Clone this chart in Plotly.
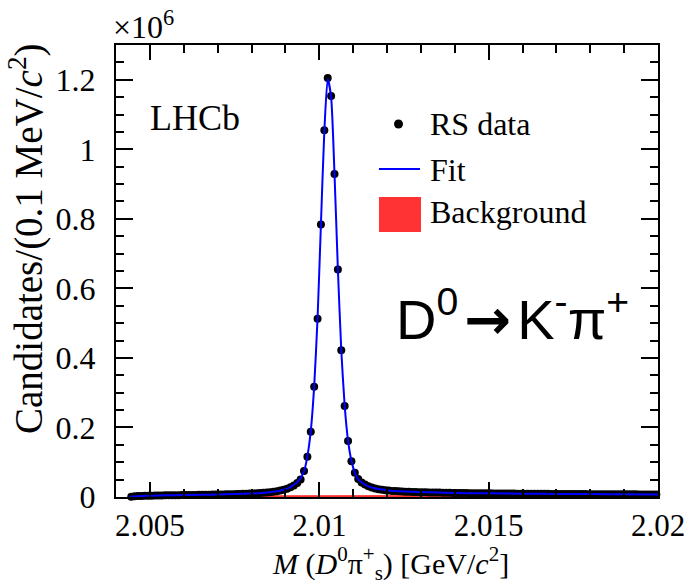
import numpy as np
import plotly.graph_objects as go

# ---------------- data (values in units of 10^6 candidates) ----------------
bin_first_center = 2.00445   # GeV/c^2
bin_width = 0.0001           # 0.1 MeV/c^2

rs_data = [
    # left tail (2.00445 ... 2.00945)
    0.0010, 0.0020, 0.0026, 0.0030, 0.0033, 0.0036, 0.0039, 0.0041, 0.0043, 0.0045,
    0.0047, 0.0049, 0.0050, 0.0052, 0.0053, 0.0055, 0.0056, 0.0058, 0.0059, 0.0061,
    0.0062, 0.0064, 0.0065, 0.0067, 0.0069, 0.0071, 0.0073, 0.0075, 0.0077, 0.0080,
    0.0082, 0.0085, 0.0088, 0.0091, 0.0094, 0.0098, 0.0103, 0.0108, 0.0114, 0.0121,
    0.0130, 0.0140, 0.0152, 0.0167, 0.0186, 0.0210, 0.0240, 0.0280, 0.0330, 0.0400,
    0.0500,
    # peak (2.00955 ... 2.01105)
    0.075, 0.116, 0.188, 0.317, 0.513, 0.784, 1.055, 1.205, 1.153, 0.929,
    0.654, 0.422, 0.262, 0.161, 0.103, 0.070,
    # right tail (2.01115 ... 2.01995)
    0.052, 0.042, 0.036, 0.031, 0.027, 0.0245, 0.0225, 0.021, 0.0195, 0.0185,
    0.0176, 0.0169, 0.0163, 0.0158, 0.0154, 0.0150, 0.0146, 0.0143, 0.0140, 0.0137,
    0.0135, 0.0132, 0.0130, 0.0128, 0.0126, 0.0124, 0.0122, 0.0120, 0.0118, 0.0116,
    0.0115, 0.0114, 0.0112, 0.0111, 0.0110, 0.0109, 0.0108, 0.0107, 0.0106, 0.0105,
    0.0104, 0.0103, 0.0102, 0.0101, 0.0100, 0.0099, 0.0098, 0.0097, 0.0096, 0.0095,
    0.0094, 0.0094, 0.0093, 0.0092, 0.0091, 0.0091, 0.0090, 0.0089, 0.0088, 0.0088,
    0.0087, 0.0086, 0.0086, 0.0085, 0.0084, 0.0084, 0.0083, 0.0083, 0.0082, 0.0081,
    0.0081, 0.0080, 0.0080, 0.0079, 0.0079, 0.0078, 0.0078, 0.0077, 0.0077, 0.0077,
    0.0076, 0.0076, 0.0076, 0.0075, 0.0075, 0.0075, 0.0075, 0.0074, 0.0074,
]

fit_mass = [
    2.00441, 2.00445, 2.0046, 2.0048, 2.0050, 2.0055, 2.0060, 2.0065, 2.0070, 2.0075,
    2.0080, 2.0083, 2.0086, 2.0088, 2.0090, 2.0091, 2.0092, 2.0093, 2.0094,
    2.00955, 2.00965, 2.00975, 2.00985, 2.00995, 2.01005, 2.01015, 2.01025, 2.01035,
    2.01045, 2.01055, 2.01065, 2.01075, 2.01085, 2.01095, 2.01105, 2.01115, 2.01125,
    2.0114, 2.0116, 2.0118, 2.0121, 2.0125, 2.0130, 2.0135, 2.0140, 2.0150, 2.0160,
    2.0170, 2.0180, 2.0190, 2.0200,
]
fit_vals = [
    0.0000, 0.0012, 0.0024, 0.0032, 0.0038, 0.0048, 0.0056, 0.0063, 0.0072, 0.0083,
    0.0100, 0.0118, 0.0145, 0.0175, 0.0225, 0.0265, 0.0320, 0.0390, 0.0480,
    0.074, 0.117, 0.190, 0.318, 0.515, 0.785, 1.052, 1.202, 1.150,
    0.930, 0.655, 0.423, 0.263, 0.162, 0.104, 0.070, 0.051, 0.042,
    0.033, 0.026, 0.022, 0.018, 0.0158, 0.0140, 0.0128, 0.0118, 0.0105, 0.0096,
    0.0089, 0.0083, 0.0078, 0.0074,
]

bkg_mass = [2.00441, 2.0050, 2.0070, 2.0100, 2.0130, 2.0160, 2.0200]
bkg_vals = [0.0000, 0.0015, 0.0025, 0.0032, 0.0038, 0.0042, 0.0046]

x_tickvals = [2.005, 2.01, 2.015, 2.02]
x_ticktext = ["2.005", "2.01", "2.015", "2.02"]
y_tickvals = [0, 0.2, 0.4, 0.6, 0.8, 1.0, 1.2]
y_ticktext = ["0", "0.2", "0.4", "0.6", "0.8", "1", "1.2"]

legend_labels = ["RS data", "Fit", "Background"]

# ---------------- figure ----------------
W, H = 691, 586
ML, MR, MT, MB = 116, 33, 45, 89
PW, PH = W - ML - MR, H - MT - MB

def px(xp):
    return (xp - ML) / PW

def py(yp):
    return (H - MB - yp) / PH

serif = "Liberation Serif, Times New Roman, serif"
sans = "Liberation Sans, Arial, sans-serif"
RED = "#ff3333"
BLUE = "#0000ff"

bin_centers = bin_first_center + bin_width * np.arange(len(rs_data))

fig = go.Figure()
fig.add_trace(go.Scatter(
    x=bkg_mass, y=bkg_vals, mode="lines", fill="tozeroy",
    fillcolor=RED, line=dict(color=RED, width=1.5), showlegend=False,
    name=legend_labels[2]))
fig.add_trace(go.Scatter(
    x=bin_centers, y=rs_data, mode="markers",
    marker=dict(color="black", size=8), cliponaxis=False,
    showlegend=False, name=legend_labels[0]))
fig.add_trace(go.Scatter(
    x=fit_mass, y=fit_vals, mode="lines",
    line=dict(color=BLUE, width=2, shape="spline", smoothing=0.6),
    showlegend=False, name=legend_labels[1]))

axis_common = dict(
    showline=True, linecolor="black", linewidth=2, mirror="allticks",
    ticks="inside", tickcolor="black", tickwidth=2,
    showgrid=False, zeroline=False, automargin=False,
)

fig.update_xaxes(
    range=[2.004, 2.020], tickmode="array", tickvals=x_tickvals, ticktext=x_ticktext,
    ticklen=15, ticklabelstandoff=0,
    tickfont=dict(family=serif, size=31, color="black"),
    minor=dict(dtick=0.001, tick0=2.0, ticks="inside", ticklen=8, tickwidth=1.5, tickcolor="black"),
    **axis_common)
fig.update_yaxes(
    range=[0, 1.3], tickmode="array", tickvals=y_tickvals, ticktext=y_ticktext,
    ticklen=17, ticklabelstandoff=12,
    tickfont=dict(family=serif, size=32, color="black"),
    minor=dict(dtick=0.05, tick0=0, ticks="inside", ticklen=8, tickwidth=1.5, tickcolor="black"),
    **axis_common)

annotations = [
    dict(text="Candidates/(0.1 MeV/<i>c</i><sup>2</sup>)", x=px(26), y=py(239),
         xref="paper", yref="paper", xanchor="center", yanchor="middle",
         textangle=-90, showarrow=False,
         font=dict(family=serif, size=39, color="black")),
    dict(text="<i>M</i> (<i>D</i><sup>0</sup>π<sup>+</sup><sub>s</sub>) [GeV/<i>c</i><sup>2</sup>]",
         x=px(390), y=py(563), xref="paper", yref="paper",
         xanchor="center", yanchor="middle", showarrow=False,
         font=dict(family=serif, size=30, color="black")),
    dict(text="×10<sup>6</sup>", x=px(111), y=1.0, xref="paper", yref="paper",
         xanchor="left", yanchor="bottom", yshift=-2, showarrow=False,
         font=dict(family=serif, size=32, color="black")),
    dict(text="LHCb", x=px(148), y=py(118), xref="paper", yref="paper",
         xanchor="left", yanchor="middle", showarrow=False,
         font=dict(family=serif, size=36, color="black")),
    dict(text=("D<sup>0</sup><span style='font-size:30px'>\u2009</span>"
               "<span style='font-family:DejaVu Sans;font-weight:bold'>→</span>"
               "<span style='font-size:30px'>\u2009</span>"
               "K<sup>-</sup>π<sup>+</sup>"),
         x=px(394), y=py(316),
         xref="paper", yref="paper", xanchor="left", yanchor="middle", showarrow=False,
         font=dict(family=sans, size=56, color="black")),
]
legend_y = [124, 170, 212]
for lab, yy in zip(legend_labels, legend_y):
    annotations.append(dict(text=lab, x=px(428), y=py(yy), xref="paper", yref="paper",
                            xanchor="left", yanchor="middle", showarrow=False,
                            font=dict(family=serif, size=32, color="black")))

shapes = [
    dict(type="circle", xref="paper", yref="paper",
         x0=px(394), x1=px(403), y0=py(128.5), y1=py(119.5),
         fillcolor="black", line=dict(width=0)),
    dict(type="line", xref="paper", yref="paper",
         x0=px(379), x1=px(420), y0=py(169), y1=py(169),
         line=dict(color=BLUE, width=2)),
    dict(type="rect", xref="paper", yref="paper",
         x0=px(379), x1=px(421), y0=py(232), y1=py(197),
         fillcolor=RED, line=dict(width=0)),
]

fig.update_layout(
    width=W, height=H,
    margin=dict(l=ML, r=MR, t=MT, b=MB),
    paper_bgcolor="white", plot_bgcolor="white",
    showlegend=False,
    annotations=annotations, shapes=shapes,
)

fig.write_html(
    "out.html",
    config={"displayModeBar": False},
    post_script="document.body.style.margin='0';document.body.style.overflow='hidden';",
)
